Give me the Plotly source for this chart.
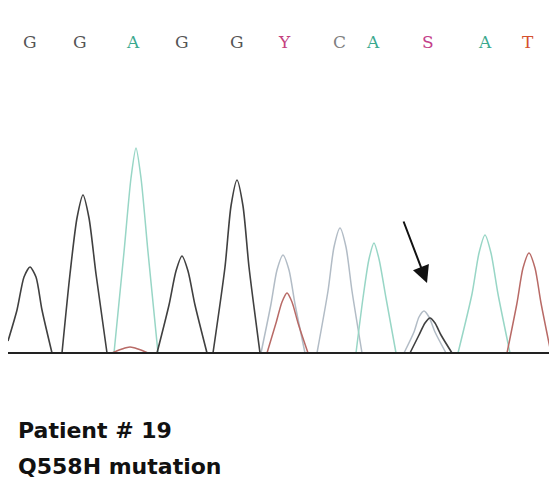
import plotly.graph_objects as go

# Base calls (letters) and their positions along the trace
base_letters = ["G", "G", "A", "G", "G", "Y", "C", "A", "S", "A", "T"]
base_pos = [30, 80, 133, 182, 237, 284, 339, 373, 428, 485, 528]
letter_colors = {"G": "#555555", "A": "#3aa88e", "Y": "#c4407e", "C": "#808080",
                 "S": "#c4408a", "T": "#d5502e"}

# Trace samples (scan position, signal above baseline);
# None separates individual peaks
g_x = [8, 17, 24, 30, 36, 42, 52, None,
       62, 70, 77, 83, 89, 96, 107, None,
       157, 169, 176, 182, 188, 195, 207, None,
       213, 225, 231, 237, 243, 249, 260, None,
       410, 419, 425, 430, 435, 441, 452]
g_y = [12, 43, 76, 86, 76, 43, 0, None,
       0, 79, 135, 158, 135, 79, 0, None,
       0, 48, 82, 97, 82, 48, 0, None,
       0, 86, 147, 173, 147, 86, 0, None,
       0, 18, 30, 35, 30, 18, 0]

a_x = [114, 124, 131, 136, 141, 148, 158, None,
       356, 363, 369, 374, 379, 386, 396, None,
       458, 472, 479, 485, 491, 498, 510]
a_y = [0, 101, 175, 205, 175, 101, 0, None,
       0, 55, 94, 110, 94, 55, 0, None,
       0, 59, 100, 118, 100, 59, 0]

c_x = [261, 271, 277, 283, 289, 295, 305, None,
       317, 328, 334, 340, 346, 352, 362, None,
       404, 414, 419, 424, 429, 435, 446]
c_y = [0, 49, 83, 98, 83, 49, 0, None,
       0, 62, 106, 125, 106, 62, 0, None,
       0, 21, 36, 42, 36, 21, 0]

t_x = [112, 122, 130, 138, 148, None,
       267, 276, 282, 287, 292, 298, 308, None,
       507, 517, 523, 529, 535, 541, 551]
t_y = [0, 4, 6, 4, 0, None,
       0, 30, 51, 60, 51, 30, 0, None,
       0, 50, 85, 100, 85, 50, 0]

baseline_x = [8, 557]
baseline_y = [0, 0]

fig = go.Figure()

def add_channel(xs, ys, color, width=1.5):
    fig.add_trace(go.Scatter(x=xs, y=ys, mode="lines", connectgaps=False,
                             line=dict(color=color, width=width, shape="spline",
                                       smoothing=0.7),
                             hoverinfo="skip", showlegend=False))

add_channel(c_x, c_y, "#b2bcc6")
add_channel(a_x, a_y, "#98d6c6")
add_channel(t_x, t_y, "#b86a66")
add_channel(g_x, g_y, "#404040", 1.6)

fig.add_trace(go.Scatter(x=baseline_x, y=baseline_y, mode="lines",
                         line=dict(color="#222222", width=2.2),
                         hoverinfo="skip", showlegend=False))

for letter, pos in zip(base_letters, base_pos):
    fig.add_annotation(x=pos, y=311, text=letter, showarrow=False,
                       xref="x", yref="y",
                       font=dict(family="DejaVu Serif", size=17,
                                 color=letter_colors[letter]))

# Arrow pointing at the mixed S peak
fig.add_annotation(x=427, y=70, ax=403, ay=133, xref="x", yref="y",
                   axref="x", ayref="y", text="", showarrow=True,
                   arrowhead=2, arrowsize=1.7, arrowwidth=2, arrowcolor="#111111")

fig.add_annotation(x=16, y=-77, text="<b>Patient # 19</b>", showarrow=False,
                   xref="x", yref="y", xanchor="left",
                   font=dict(family="DejaVu Sans", size=22, color="#111111"))
fig.add_annotation(x=16, y=-113, text="<b>Q558H mutation</b>", showarrow=False,
                   xref="x", yref="y", xanchor="left",
                   font=dict(family="DejaVu Sans", size=22, color="#111111"))

# The page adds an 8px body margin, so the figure is sized to fit the window
fig.update_layout(width=549, height=470, margin=dict(l=0, r=0, t=0, b=0),
                  paper_bgcolor="white", plot_bgcolor="white",
                  xaxis=dict(range=[8, 557], visible=False, fixedrange=True),
                  yaxis=dict(range=[-125, 345], visible=False, fixedrange=True))

fig.write_html("out.html")
